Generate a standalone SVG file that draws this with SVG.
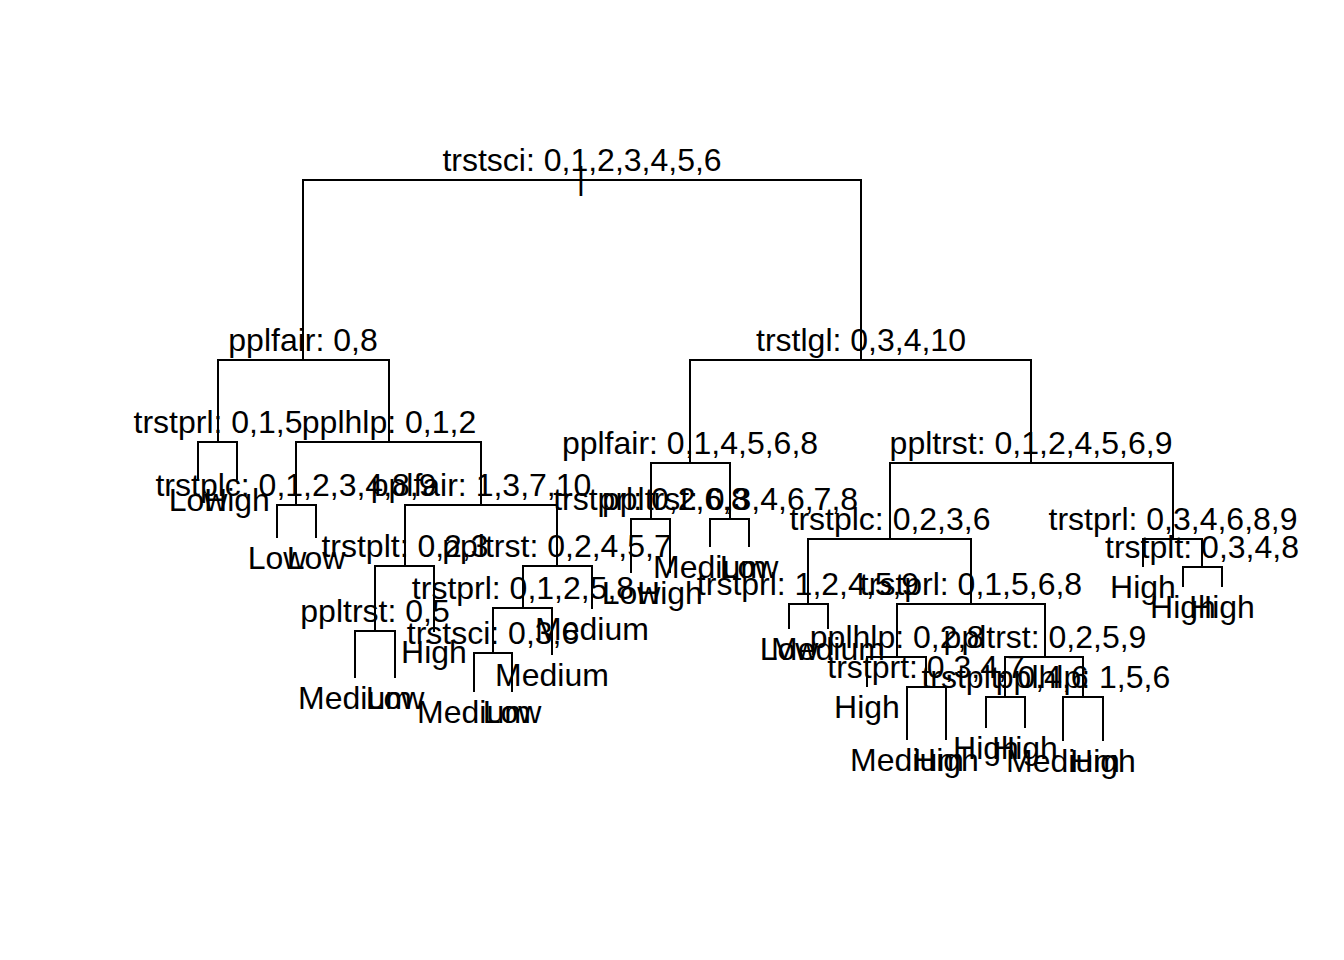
<svg xmlns="http://www.w3.org/2000/svg" width="1344" height="960" viewBox="0 0 1344 960">
  <style>
    .lbl { font-family: "Liberation Sans", Arial, sans-serif; font-size: 32px; text-anchor: middle; fill: #000; }
    .edge { stroke: #000; stroke-width: 2; fill: none; stroke-linecap: butt; stroke-linejoin: miter; }
  </style>
  <rect width="1344" height="960" fill="#fff"/>

  <!-- branches: horizontal at parent level, then down to child -->
  <g id="connectors">
    <path class="edge" d="M582 180 H303 V360"/>
    <path class="edge" d="M582 180 H861 V360"/>
    <path class="edge" d="M303 360 H218 V442"/>
    <path class="edge" d="M303 360 H389 V442"/>
    <path class="edge" d="M218 442 H198 V480"/>
    <path class="edge" d="M218 442 H237 V480"/>
    <path class="edge" d="M389 442 H296 V505"/>
    <path class="edge" d="M389 442 H481 V505"/>
    <path class="edge" d="M296 505 H277 V538"/>
    <path class="edge" d="M296 505 H316 V538"/>
    <path class="edge" d="M481 505 H405 V566"/>
    <path class="edge" d="M481 505 H557 V566"/>
    <path class="edge" d="M405 566 H375 V631"/>
    <path class="edge" d="M405 566 H434 V632"/>
    <path class="edge" d="M375 631 H355 V678"/>
    <path class="edge" d="M375 631 H395 V678"/>
    <path class="edge" d="M557 566 H523 V608"/>
    <path class="edge" d="M557 566 H592 V609"/>
    <path class="edge" d="M523 608 H493 V653"/>
    <path class="edge" d="M523 608 H552 V655"/>
    <path class="edge" d="M493 653 H474 V692"/>
    <path class="edge" d="M493 653 H512 V692"/>
    <path class="edge" d="M861 360 H690 V463"/>
    <path class="edge" d="M861 360 H1031 V463"/>
    <path class="edge" d="M690 463 H651 V519"/>
    <path class="edge" d="M690 463 H730 V519"/>
    <path class="edge" d="M651 519 H631 V573"/>
    <path class="edge" d="M651 519 H670 V573"/>
    <path class="edge" d="M730 519 H710 V547"/>
    <path class="edge" d="M730 519 H749 V547"/>
    <path class="edge" d="M1031 463 H890 V539"/>
    <path class="edge" d="M1031 463 H1173 V539"/>
    <path class="edge" d="M890 539 H808 V604"/>
    <path class="edge" d="M890 539 H971 V604"/>
    <path class="edge" d="M808 604 H789 V629"/>
    <path class="edge" d="M808 604 H828 V629"/>
    <path class="edge" d="M971 604 H897 V657"/>
    <path class="edge" d="M971 604 H1045 V657"/>
    <path class="edge" d="M897 657 H867 V687"/>
    <path class="edge" d="M897 657 H926 V687"/>
    <path class="edge" d="M926 687 H907 V740"/>
    <path class="edge" d="M926 687 H946 V740"/>
    <path class="edge" d="M1045 657 H1005 V697"/>
    <path class="edge" d="M1045 657 H1083 V697"/>
    <path class="edge" d="M1005 697 H986 V728"/>
    <path class="edge" d="M1005 697 H1025 V728"/>
    <path class="edge" d="M1083 697 H1063 V741"/>
    <path class="edge" d="M1083 697 H1103 V741"/>
    <path class="edge" d="M1173 539 H1143 V567"/>
    <path class="edge" d="M1173 539 H1202 V567"/>
    <path class="edge" d="M1202 567 H1183 V587"/>
    <path class="edge" d="M1202 567 H1222 V587"/>
  </g>

  <!-- split nodes -->
  <g id="node-root"><text class="lbl" x="582" y="171">trstsci: 0,1,2,3,4,5,6</text><text class="lbl" x="581" y="189">|</text></g>
  <g id="node-2"><text class="lbl" x="303" y="351">pplfair: 0,8</text></g>
  <g id="node-3"><text class="lbl" x="861" y="351">trstlgl: 0,3,4,10</text></g>
  <g id="node-4"><text class="lbl" x="218" y="433">trstprl: 0,1,5</text></g>
  <g id="node-5"><text class="lbl" x="389" y="433">pplhlp: 0,1,2</text></g>
  <g id="node-10"><text class="lbl" x="296" y="496">trstplc: 0,1,2,3,4,8,9</text></g>
  <g id="node-11"><text class="lbl" x="481" y="496">pplfair: 1,3,7,10</text></g>
  <g id="node-22"><text class="lbl" x="405" y="557">trstplt: 0,2,3</text></g>
  <g id="node-44"><text class="lbl" x="375" y="622">ppltrst: 0,5</text></g>
  <g id="node-23"><text class="lbl" x="557" y="557">ppltrst: 0,2,4,5,7</text></g>
  <g id="node-46"><text class="lbl" x="523" y="599">trstprl: 0,1,2,5,8</text></g>
  <g id="node-92"><text class="lbl" x="493" y="644">trstsci: 0,3,6</text></g>
  <g id="node-6"><text class="lbl" x="690" y="454">pplfair: 0,1,4,5,6,8</text></g>
  <g id="node-12"><text class="lbl" x="651" y="510">trstprl: 0,2,6,8</text></g>
  <g id="node-13"><text class="lbl" x="730" y="510">ppltrst: 0,3,4,6,7,8</text></g>
  <g id="node-7"><text class="lbl" x="1031" y="454">ppltrst: 0,1,2,4,5,6,9</text></g>
  <g id="node-14"><text class="lbl" x="890" y="530">trstplc: 0,2,3,6</text></g>
  <g id="node-28"><text class="lbl" x="808" y="595">trstprl: 1,2,4,5,9</text></g>
  <g id="node-29"><text class="lbl" x="971" y="595">trstprl: 0,1,5,6,8</text></g>
  <g id="node-58"><text class="lbl" x="897" y="648">pplhlp: 0,2,8</text></g>
  <g id="node-117"><text class="lbl" x="926" y="678">trstprt: 0,3,4,7</text></g>
  <g id="node-59"><text class="lbl" x="1045" y="648">ppltrst: 0,2,5,9</text></g>
  <g id="node-118"><text class="lbl" x="1005" y="688">trstplt: 0,4,6</text></g>
  <g id="node-119"><text class="lbl" x="1083" y="688">pplhlp: 1,5,6</text></g>
  <g id="node-15"><text class="lbl" x="1173" y="530">trstprl: 0,3,4,6,8,9</text></g>
  <g id="node-31"><text class="lbl" x="1202" y="558">trstplt: 0,3,4,8</text></g>

  <!-- leaves -->
  <g id="leaf-8"><text class="lbl" x="198" y="511">Low</text></g>
  <g id="leaf-9"><text class="lbl" x="237" y="511">High</text></g>
  <g id="leaf-20"><text class="lbl" x="277" y="569">Low</text></g>
  <g id="leaf-21"><text class="lbl" x="316" y="569">Low</text></g>
  <g id="leaf-88"><text class="lbl" x="355" y="709">Medium</text></g>
  <g id="leaf-89"><text class="lbl" x="395" y="709">Low</text></g>
  <g id="leaf-45"><text class="lbl" x="434" y="663">High</text></g>
  <g id="leaf-184"><text class="lbl" x="474" y="723">Medium</text></g>
  <g id="leaf-185"><text class="lbl" x="512" y="723">Low</text></g>
  <g id="leaf-93"><text class="lbl" x="552" y="686">Medium</text></g>
  <g id="leaf-47"><text class="lbl" x="592" y="640">Medium</text></g>
  <g id="leaf-24"><text class="lbl" x="631" y="604">Low</text></g>
  <g id="leaf-25"><text class="lbl" x="670" y="604">High</text></g>
  <g id="leaf-26"><text class="lbl" x="710" y="578">Medium</text></g>
  <g id="leaf-27"><text class="lbl" x="749" y="578">Low</text></g>
  <g id="leaf-56"><text class="lbl" x="789" y="660">Low</text></g>
  <g id="leaf-57"><text class="lbl" x="828" y="660">Medium</text></g>
  <g id="leaf-116"><text class="lbl" x="867" y="718">High</text></g>
  <g id="leaf-234"><text class="lbl" x="907" y="771">Medium</text></g>
  <g id="leaf-235"><text class="lbl" x="946" y="771">High</text></g>
  <g id="leaf-236"><text class="lbl" x="986" y="759">High</text></g>
  <g id="leaf-237"><text class="lbl" x="1025" y="759">High</text></g>
  <g id="leaf-238"><text class="lbl" x="1063" y="772">Medium</text></g>
  <g id="leaf-239"><text class="lbl" x="1103" y="772">High</text></g>
  <g id="leaf-30"><text class="lbl" x="1143" y="598">High</text></g>
  <g id="leaf-62"><text class="lbl" x="1183" y="618">High</text></g>
  <g id="leaf-63"><text class="lbl" x="1222" y="618">High</text></g>
</svg>
